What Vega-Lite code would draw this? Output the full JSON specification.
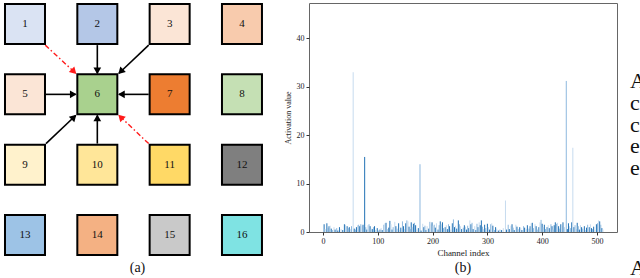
{
 "$schema": "https://vega.github.io/schema/vega-lite/v6.json",
 "padding": {"top": 0, "left": 0, "right": 0, "bottom": 0},
 "background": "white",
 "spacing": 4,
 "resolve": {"scale": {"color": "independent", "fill": "independent", "x": "independent", "y": "independent"}},
 "config": {"view": {"stroke": null}, "font": "Liberation Serif"},
 "datasets": {
  "squares": [
   {"n":1,"col":1,"row":1},{"n":2,"col":2,"row":1},{"n":3,"col":3,"row":1},{"n":4,"col":4,"row":1},
   {"n":5,"col":1,"row":2},{"n":6,"col":2,"row":2},{"n":7,"col":3,"row":2},{"n":8,"col":4,"row":2},
   {"n":9,"col":1,"row":3},{"n":10,"col":2,"row":3},{"n":11,"col":3,"row":3},{"n":12,"col":4,"row":3},
   {"n":13,"col":1,"row":4},{"n":14,"col":2,"row":4},{"n":15,"col":3,"row":4},{"n":16,"col":4,"row":4}
  ],
  "arrows": [
   {"from":2,"k":"b","x":2,"y":1.3,"x2":2,"y2":1.7,"hx":2,"hy":1.65,"a":180},
   {"from":3,"k":"b","x":2.71,"y":1.3,"x2":2.3,"y2":1.7,"hx":2.334,"hy":1.665,"a":225},
   {"from":5,"k":"b","x":1.29,"y":2,"x2":1.7,"y2":2,"hx":1.652,"hy":2,"a":90},
   {"from":7,"k":"b","x":2.71,"y":2,"x2":2.3,"y2":2,"hx":2.348,"hy":2,"a":270},
   {"from":9,"k":"b","x":1.29,"y":2.7,"x2":1.7,"y2":2.3,"hx":1.666,"hy":2.335,"a":45},
   {"from":10,"k":"b","x":2,"y":2.7,"x2":2,"y2":2.3,"hx":2,"hy":2.35,"a":0},
   {"from":1,"k":"r","x":1.28,"y":1.3,"x2":1.7,"y2":1.7,"hx":1.666,"hy":1.665,"a":135},
   {"from":11,"k":"r","x":2.71,"y":2.7,"x2":2.3,"y2":2.3,"hx":2.334,"hy":2.335,"a":315}
  ],
  "letters": [
   {"t":"A","line":0},{"t":"c","line":1},{"t":"c","line":2},{"t":"e","line":3},{"t":"e","line":4},{"t":"A","line":8.6}
  ],
  "bars": [
   {"c":2,"v":1.6,"g":"d"},{"c":4,"v":0.6,"g":"l"},{"c":7,"v":1.8,"g":"d"},{"c":9,"v":0.9,"g":"m"},{"c":11,"v":1.2,"g":"d"},{"c":13,"v":1.3,"g":"l"},{"c":15,"v":0.7,"g":"d"},{"c":17,"v":0.4,"g":"m"},{"c":20,"v":1.0,"g":"l"},{"c":22,"v":0.5,"g":"d"},{"c":25,"v":0.8,"g":"m"},{"c":27,"v":0.3,"g":"d"},{"c":30,"v":1.0,"g":"d"},{"c":33,"v":0.6,"g":"l"},{"c":36,"v":0.4,"g":"d"},{"c":39,"v":1.6,"g":"d"},{"c":41,"v":1.5,"g":"l"},{"c":44,"v":1.2,"g":"d"},{"c":46,"v":0.8,"g":"m"},{"c":48,"v":1.0,"g":"d"},{"c":50,"v":0.6,"g":"l"},{"c":52,"v":1.2,"g":"m"},{"c":55,"v":33,"g":"l"},{"c":57,"v":0.7,"g":"d"},{"c":59,"v":0.5,"g":"m"},{"c":61,"v":1.0,"g":"d"},{"c":63,"v":1.4,"g":"l"},{"c":65,"v":1.5,"g":"m"},{"c":67,"v":1.2,"g":"d"},{"c":69,"v":1.6,"g":"m"},{"c":71,"v":1.3,"g":"l"},{"c":73,"v":1.5,"g":"d"},{"c":76,"v":15.5,"g":"d"},{"c":78,"v":1.0,"g":"m"},{"c":80,"v":0.5,"g":"d"},{"c":82,"v":1.4,"g":"l"},{"c":84,"v":1.6,"g":"m"},{"c":86,"v":1.2,"g":"d"},{"c":88,"v":0.7,"g":"l"},{"c":90,"v":0.6,"g":"d"},{"c":92,"v":1.0,"g":"m"},{"c":94,"v":1.2,"g":"d"},{"c":96,"v":0.4,"g":"l"},{"c":99,"v":0.8,"g":"d"},{"c":101,"v":0.3,"g":"m"},{"c":104,"v":0.5,"g":"d"},{"c":106,"v":0.8,"g":"l"},{"c":108,"v":0.4,"g":"d"},{"c":111,"v":1.5,"g":"m"},{"c":113,"v":1.8,"g":"l"},{"c":115,"v":1.9,"g":"d"},{"c":117,"v":0.6,"g":"m"},{"c":120,"v":0.9,"g":"d"},{"c":122,"v":2.3,"g":"d"},{"c":124,"v":1.6,"g":"l"},{"c":126,"v":0.5,"g":"d"},{"c":128,"v":1.0,"g":"m"},{"c":131,"v":2.1,"g":"l"},{"c":133,"v":1.2,"g":"d"},{"c":135,"v":0.7,"g":"m"},{"c":138,"v":1.8,"g":"d"},{"c":140,"v":0.4,"g":"l"},{"c":142,"v":0.9,"g":"d"},{"c":145,"v":2.2,"g":"m"},{"c":147,"v":1.2,"g":"d"},{"c":149,"v":0.6,"g":"l"},{"c":151,"v":1.8,"g":"d"},{"c":153,"v":2.4,"g":"m"},{"c":155,"v":2.2,"g":"l"},{"c":157,"v":1.1,"g":"d"},{"c":159,"v":0.6,"g":"m"},{"c":161,"v":2.0,"g":"d"},{"c":163,"v":1.0,"g":"l"},{"c":165,"v":1.7,"g":"d"},{"c":167,"v":1.9,"g":"m"},{"c":169,"v":1.4,"g":"d"},{"c":171,"v":0.5,"g":"l"},{"c":174,"v":0.8,"g":"d"},{"c":177,"v":14,"g":"m"},{"c":179,"v":0.3,"g":"d"},{"c":182,"v":1.7,"g":"l"},{"c":184,"v":1.0,"g":"d"},{"c":186,"v":1.3,"g":"m"},{"c":188,"v":0.4,"g":"d"},{"c":190,"v":1.2,"g":"l"},{"c":193,"v":0.7,"g":"d"},{"c":195,"v":2.1,"g":"m"},{"c":197,"v":1.6,"g":"l"},{"c":199,"v":2.0,"g":"d"},{"c":201,"v":1.3,"g":"l"},{"c":203,"v":1.5,"g":"m"},{"c":205,"v":0.9,"g":"d"},{"c":207,"v":1.8,"g":"l"},{"c":210,"v":0.5,"g":"d"},{"c":212,"v":1.4,"g":"m"},{"c":214,"v":2.2,"g":"d"},{"c":216,"v":1.6,"g":"l"},{"c":218,"v":2.0,"g":"d"},{"c":220,"v":0.8,"g":"m"},{"c":223,"v":1.0,"g":"d"},{"c":225,"v":1.4,"g":"l"},{"c":227,"v":0.6,"g":"d"},{"c":229,"v":1.6,"g":"m"},{"c":231,"v":1.2,"g":"d"},{"c":233,"v":0.5,"g":"l"},{"c":236,"v":1.8,"g":"d"},{"c":238,"v":2.6,"g":"m"},{"c":240,"v":1.0,"g":"d"},{"c":242,"v":1.3,"g":"l"},{"c":244,"v":0.7,"g":"d"},{"c":247,"v":2.4,"g":"d"},{"c":249,"v":1.6,"g":"m"},{"c":251,"v":1.2,"g":"l"},{"c":253,"v":0.6,"g":"d"},{"c":256,"v":0.9,"g":"m"},{"c":258,"v":1.4,"g":"d"},{"c":260,"v":1.1,"g":"l"},{"c":262,"v":0.5,"g":"d"},{"c":264,"v":1.3,"g":"m"},{"c":266,"v":0.8,"g":"d"},{"c":268,"v":2.4,"g":"l"},{"c":270,"v":1.6,"g":"d"},{"c":272,"v":1.9,"g":"m"},{"c":274,"v":0.6,"g":"d"},{"c":277,"v":1.2,"g":"l"},{"c":279,"v":0.4,"g":"d"},{"c":281,"v":1.7,"g":"m"},{"c":283,"v":1.0,"g":"d"},{"c":285,"v":2.0,"g":"l"},{"c":287,"v":1.4,"g":"d"},{"c":289,"v":2.4,"g":"d"},{"c":291,"v":1.1,"g":"m"},{"c":293,"v":0.6,"g":"l"},{"c":295,"v":1.5,"g":"d"},{"c":297,"v":0.8,"g":"m"},{"c":300,"v":1.7,"g":"d"},{"c":302,"v":1.0,"g":"l"},{"c":304,"v":0.5,"g":"d"},{"c":306,"v":1.6,"g":"m"},{"c":308,"v":1.8,"g":"l"},{"c":310,"v":1.3,"g":"d"},{"c":313,"v":0.4,"g":"m"},{"c":315,"v":1.0,"g":"d"},{"c":317,"v":0.7,"g":"l"},{"c":320,"v":0.3,"g":"d"},{"c":323,"v":0.5,"g":"m"},{"c":326,"v":0.4,"g":"d"},{"c":329,"v":0.8,"g":"l"},{"c":333,"v":6.5,"g":"l"},{"c":335,"v":0.5,"g":"d"},{"c":338,"v":1.5,"g":"m"},{"c":340,"v":0.6,"g":"d"},{"c":343,"v":1.3,"g":"l"},{"c":345,"v":1.6,"g":"d"},{"c":347,"v":0.9,"g":"m"},{"c":349,"v":0.4,"g":"d"},{"c":352,"v":1.5,"g":"l"},{"c":354,"v":1.1,"g":"d"},{"c":356,"v":0.6,"g":"m"},{"c":359,"v":1.0,"g":"d"},{"c":361,"v":0.8,"g":"l"},{"c":363,"v":0.4,"g":"d"},{"c":366,"v":1.2,"g":"m"},{"c":368,"v":0.9,"g":"d"},{"c":371,"v":0.6,"g":"l"},{"c":373,"v":1.4,"g":"d"},{"c":376,"v":0.7,"g":"m"},{"c":378,"v":1.2,"g":"d"},{"c":380,"v":1.8,"g":"l"},{"c":382,"v":1.9,"g":"d"},{"c":384,"v":0.8,"g":"m"},{"c":387,"v":1.6,"g":"l"},{"c":389,"v":1.2,"g":"d"},{"c":391,"v":0.5,"g":"m"},{"c":394,"v":1.0,"g":"d"},{"c":396,"v":2.0,"g":"l"},{"c":398,"v":2.5,"g":"m"},{"c":400,"v":1.7,"g":"d"},{"c":402,"v":1.0,"g":"l"},{"c":404,"v":1.5,"g":"d"},{"c":406,"v":0.6,"g":"m"},{"c":409,"v":1.0,"g":"d"},{"c":411,"v":1.4,"g":"l"},{"c":413,"v":0.8,"g":"d"},{"c":416,"v":1.6,"g":"m"},{"c":418,"v":1.2,"g":"d"},{"c":420,"v":0.5,"g":"l"},{"c":422,"v":1.4,"g":"d"},{"c":424,"v":2.0,"g":"d"},{"c":426,"v":1.7,"g":"m"},{"c":428,"v":1.9,"g":"l"},{"c":430,"v":1.2,"g":"d"},{"c":432,"v":0.7,"g":"m"},{"c":434,"v":1.6,"g":"d"},{"c":436,"v":1.3,"g":"l"},{"c":438,"v":2.0,"g":"d"},{"c":440,"v":1.0,"g":"m"},{"c":444,"v":31.2,"g":"m"},{"c":446,"v":0.6,"g":"d"},{"c":448,"v":1.8,"g":"d"},{"c":450,"v":1.2,"g":"l"},{"c":452,"v":0.8,"g":"m"},{"c":454,"v":2.0,"g":"d"},{"c":456,"v":17.4,"g":"l"},{"c":458,"v":1.0,"g":"d"},{"c":460,"v":1.4,"g":"m"},{"c":462,"v":0.6,"g":"l"},{"c":464,"v":1.9,"g":"d"},{"c":466,"v":1.2,"g":"m"},{"c":468,"v":0.5,"g":"d"},{"c":470,"v":1.4,"g":"l"},{"c":472,"v":1.0,"g":"d"},{"c":474,"v":0.7,"g":"m"},{"c":477,"v":1.2,"g":"d"},{"c":479,"v":0.4,"g":"l"},{"c":481,"v":0.9,"g":"d"},{"c":483,"v":1.5,"g":"m"},{"c":486,"v":1.0,"g":"d"},{"c":488,"v":1.6,"g":"l"},{"c":490,"v":0.8,"g":"d"},{"c":492,"v":0.6,"g":"m"},{"c":494,"v":1.1,"g":"d"},{"c":496,"v":0.4,"g":"l"},{"c":499,"v":1.6,"g":"d"},{"c":501,"v":1.8,"g":"m"},{"c":503,"v":2.4,"g":"l"},{"c":505,"v":2.2,"g":"d"},{"c":507,"v":1.5,"g":"m"},{"c":509,"v":0.8,"g":"d"},{"c":511,"v":0.5,"g":"l"}
  ]
 },
 "hconcat": [
  {
   "width": 275,
   "height": 256,
   "title": {"text": "(a)", "orient": "bottom", "fontSize": 14, "fontWeight": "normal", "font": "Liberation Serif", "color": "#111", "offset": 2, "anchor": "middle", "dx": -4},
   "layer": [
    {
     "data": {"name": "arrows"},
     "transform": [{"filter": "datum.k == 'b'"}],
     "mark": {"type": "rule", "color": "black", "strokeWidth": 1.6},
     "encoding": {
      "x": {"field": "x", "type": "quantitative", "scale": {"domain": [0.7097, 4.512], "nice": false, "zero": false}, "axis": null},
      "y": {"field": "y", "type": "quantitative", "scale": {"domain": [0.7014, 4.34], "nice": false, "zero": false, "reverse": true}, "axis": null},
      "x2": {"field": "x2"},
      "y2": {"field": "y2"}
     }
    },
    {
     "data": {"name": "arrows"},
     "transform": [{"filter": "datum.k == 'r'"}],
     "mark": {"type": "rule", "color": "#ff1a1a", "strokeWidth": 1.4, "strokeDash": [5, 2.5, 1.5, 2.5]},
     "encoding": {
      "x": {"field": "x", "type": "quantitative"},
      "y": {"field": "y", "type": "quantitative"},
      "x2": {"field": "x2"},
      "y2": {"field": "y2"}
     }
    },
    {
     "data": {"name": "arrows"},
     "mark": {"type": "point", "shape": "triangle", "filled": true, "size": 60, "opacity": 1},
     "encoding": {
      "x": {"field": "hx", "type": "quantitative"},
      "y": {"field": "hy", "type": "quantitative"},
      "angle": {"field": "a", "type": "quantitative", "scale": null},
      "color": {"field": "k", "type": "nominal", "scale": {"domain": ["b", "r"], "range": ["black", "#ff1a1a"]}, "legend": null}
     }
    },
    {
     "data": {"name": "squares"},
     "mark": {"type": "point", "shape": "square", "size": 1600, "stroke": "black", "strokeWidth": 2, "opacity": 1, "fillOpacity": 1},
     "encoding": {
      "x": {"field": "col", "type": "quantitative"},
      "y": {"field": "row", "type": "quantitative"},
      "fill": {"field": "n", "type": "nominal", "scale": {"domain": [1,2,3,4,5,6,7,8,9,10,11,12,13,14,15,16], "range": ["#dae3f3","#b4c7e7","#fbe5d6","#f8cbad","#fbe5d6","#a9d18e","#ed7d31","#c5e0b4","#fff2cc","#ffe699","#ffd966","#7f7f7f","#9dc3e6","#f4b183","#c9c9c9","#7fe3e3"]}, "legend": null}
     }
    },
    {
     "data": {"name": "squares"},
     "mark": {"type": "text", "fontSize": 11, "font": "Liberation Serif", "color": "#111", "baseline": "middle", "align": "center"},
     "encoding": {
      "x": {"field": "col", "type": "quantitative"},
      "y": {"field": "row", "type": "quantitative"},
      "text": {"field": "n"}
     }
    }
   ]
  },
  {
   "width": 308,
   "height": 229,
   "view": {"stroke": "#666666", "strokeWidth": 1},
   "title": {"text": "(b)", "orient": "bottom", "fontSize": 14, "fontWeight": "normal", "font": "Liberation Serif", "color": "#111", "offset": 4, "anchor": "middle", "frame": "group"},
   "data": {"name": "bars"},
   "mark": {"type": "rule", "strokeWidth": 1},
   "encoding": {
    "x": {"field": "c", "type": "quantitative", "scale": {"domain": [-25.6, 536.6], "nice": false, "zero": false},
     "axis": {"values": [0,100,200,300,400,500], "title": "Channel index", "grid": false, "domain": false, "tickSize": 3, "tickColor": "#333", "labelFontSize": 8, "labelColor": "#222", "labelFont": "Liberation Serif", "titleFont": "Liberation Serif", "titleFontSize": 9, "titleFontWeight": "normal", "titleColor": "#222", "labelPadding": 2, "titlePadding": 3}},
    "y": {"field": "v", "type": "quantitative", "scale": {"domain": [0, 47.3], "nice": false},
     "axis": {"values": [0,10,20,30,40], "title": "Activation value", "grid": false, "domain": false, "tickSize": 3, "tickColor": "#333", "labelFontSize": 8, "labelColor": "#222", "labelFont": "Liberation Serif", "titleFont": "Liberation Serif", "titleFontSize": 8, "titleFontWeight": "normal", "titleColor": "#222", "labelPadding": 2, "titlePadding": 4}},
    "y2": {"datum": 0},
    "color": {"field": "g", "type": "nominal", "scale": {"domain": ["d", "m", "l"], "range": ["#2171b5", "#8db8de", "#c6dbef"]}, "legend": null}
   }
  },
  {
   "width": 16,
   "height": 276,
   "data": {"name": "letters"},
   "mark": {"type": "text", "fontSize": 22, "font": "Liberation Serif", "align": "left", "baseline": "middle", "color": "#111"},
   "encoding": {
    "y": {"field": "line", "type": "quantitative", "scale": {"domain": [-3.578, 9.083], "nice": false, "zero": false, "reverse": true}, "axis": null},
    "text": {"field": "t"}
   }
  }
 ]
}
